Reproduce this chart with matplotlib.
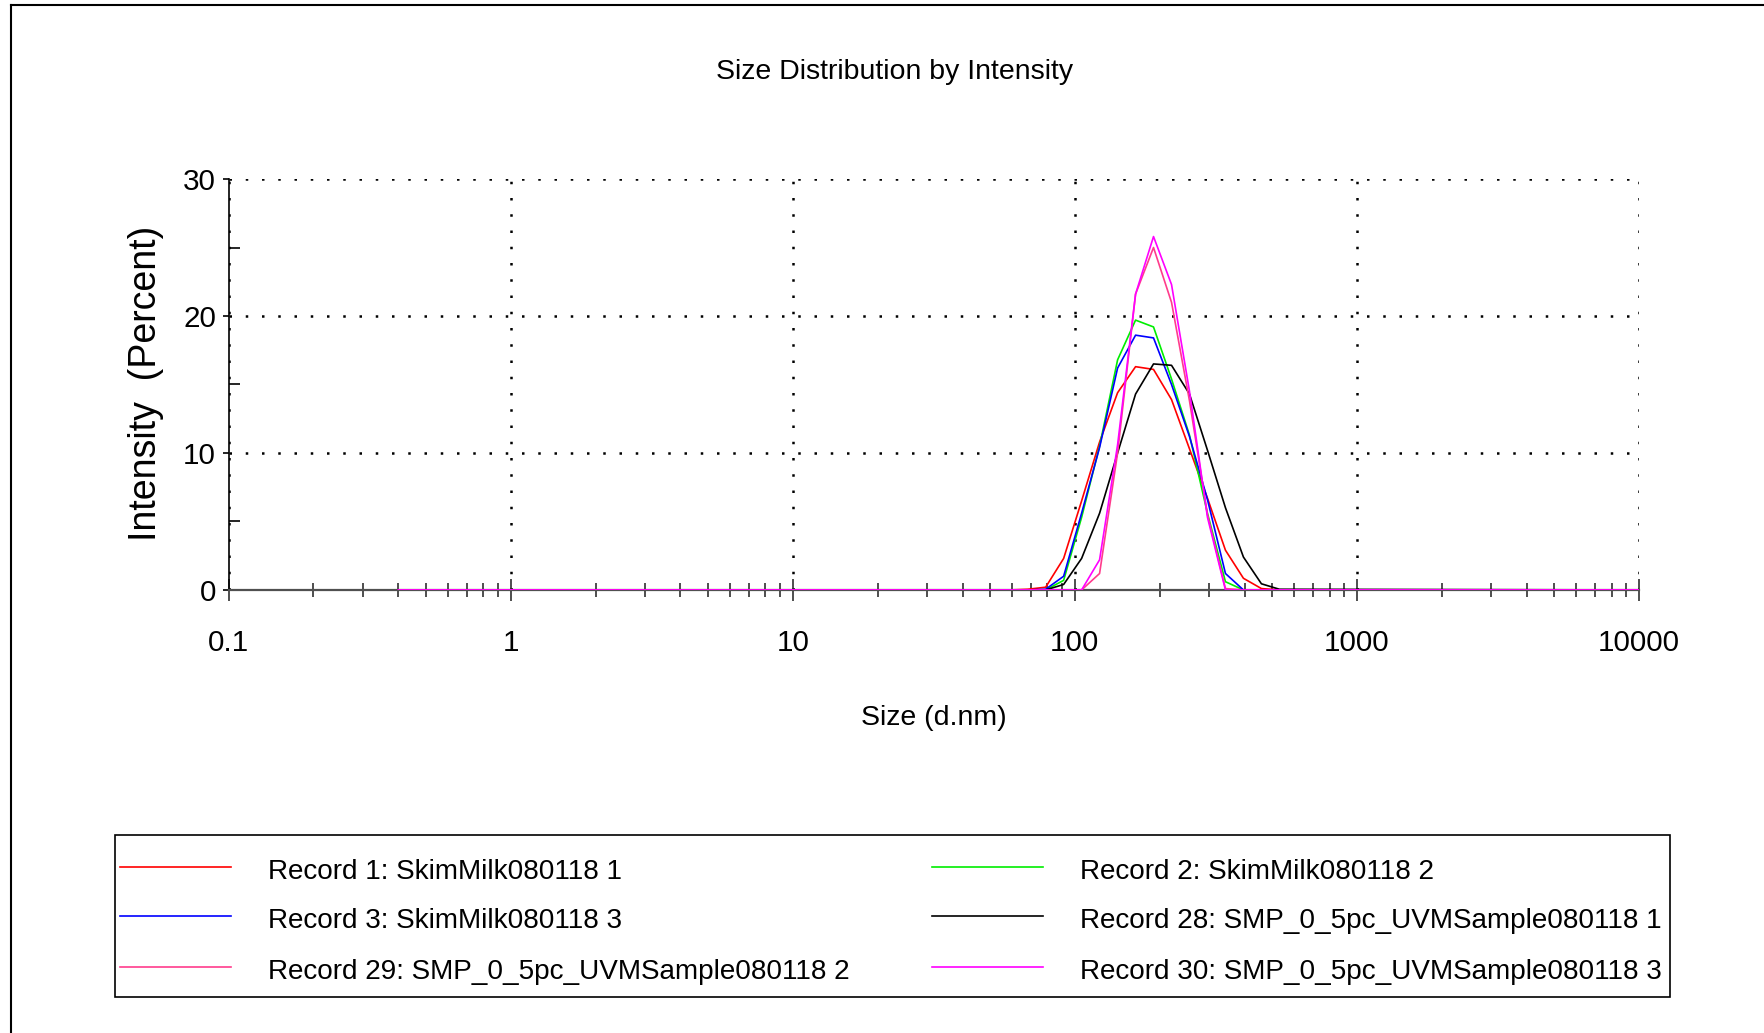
import matplotlib
matplotlib.use("Agg")
import matplotlib.pyplot as plt
import matplotlib.ticker as ticker
from matplotlib import font_manager
from matplotlib.lines import Line2D
from matplotlib.patches import Rectangle

# --- Data (size bins in d.nm, intensity in percent) ---
SIZE_MIN = 0.4
SIZE_MAX = 10000
PEAK_SIZES = [58.77, 68.06, 78.82, 91.28, 105.7, 122.4, 141.8, 164.2,
              190.1, 220.2, 255.0, 295.3, 342.0, 396.1, 458.7, 531.2]

rec1 = [0, 0.05, 0.2, 2.3, 6.5, 10.8, 14.4, 16.3, 16.1, 13.9, 10.3, 6.7, 2.9, 0.85, 0.1, 0]
rec2 = [0, 0, 0, 0.7, 5.3, 10.5, 16.8, 19.7, 19.2, 15.4, 11.3, 5.6, 0.6, 0, 0, 0]
rec3 = [0, 0, 0.05, 1.0, 5.6, 10.4, 16.2, 18.6, 18.4, 15.0, 11.2, 6.6, 1.2, 0, 0, 0]
rec28 = [0, 0, 0, 0.4, 2.3, 5.6, 10.0, 14.3, 16.5, 16.4, 14.3, 10.2, 6.0, 2.4, 0.45, 0.05]
rec29 = [0, 0, 0, 0, 0, 1.2, 10.0, 21.6, 25.0, 21.0, 13.8, 5.5, 0.1, 0, 0, 0]
rec30 = [0, 0, 0, 0, 0, 2.2, 10.6, 21.6, 25.8, 22.3, 14.5, 5.3, 0, 0, 0, 0]

LABELS = ["Record 1: SkimMilk080118 1", "Record 2: SkimMilk080118 2",
          "Record 3: SkimMilk080118 3", "Record 28: SMP_0_5pc_UVMSample080118 1",
          "Record 29: SMP_0_5pc_UVMSample080118 2", "Record 30: SMP_0_5pc_UVMSample080118 3"]
SERIES = [rec1, rec2, rec3, rec28, rec29, rec30]
COLORS = ["#ff0000", "#00ee00", "#0000ff", "#000000", "#ff3c8c", "#ff00ff"]

X_TICKS = [0.1, 1, 10, 100, 1000, 10000]
X_TICK_LABELS = ["0.1", "1", "10", "100", "1000", "10000"]
Y_TICKS = [0, 10, 20, 30]

# narrow font if there is one, otherwise plain Liberation Sans at a smaller size
installed = {f.name for f in font_manager.fontManager.ttflist}
if "Liberation Sans Narrow" in installed:
    NARROW = ["Liberation Sans Narrow", "DejaVu Sans"]
    scale = 1.0
else:
    NARROW = ["Liberation Sans", "DejaVu Sans"]
    scale = 0.82
TICK_FS = 26 * scale
TEXT_FS = 25 * scale
LEGEND_FS = 24.5 * scale

fig = plt.figure(figsize=(17.65, 10.33), dpi=100)
ax = fig.add_axes([0.1295, 0.4289, 0.7991, 0.3978])

for vals, col, lab in zip(SERIES, COLORS, LABELS):
    xs = [SIZE_MIN] + PEAK_SIZES + [SIZE_MAX]
    ys = [0] + vals + [0]
    ax.plot(xs, ys, color=col, lw=1.2, label=lab, zorder=3)

ax.set_xscale("log")
ax.set_xlim(0.1, 10000)
ax.set_ylim(0, 30)
ax.set_xticks(X_TICKS)
ax.set_xticklabels(X_TICK_LABELS)
ax.xaxis.set_minor_locator(ticker.LogLocator(base=10, subs=range(2, 10), numticks=20))
ax.xaxis.set_minor_formatter(ticker.NullFormatter())
ax.set_yticks(Y_TICKS)
ax.yaxis.set_minor_locator(ticker.FixedLocator([5, 15, 25]))

ax.grid(True, which="major", color="black", linestyle=(0, (1, 5.5)), lw=1.8)
for side in ["top", "right"]:
    ax.spines[side].set_visible(False)
ax.spines["left"].set_color("black")
ax.spines["left"].set_linewidth(1.2)
ax.spines["bottom"].set_color("#505050")
ax.spines["bottom"].set_linewidth(1.6)

ax.tick_params(axis="x", which="major", direction="inout", length=16, width=1.2,
               color="#303030", pad=20)
ax.tick_params(axis="x", which="minor", direction="inout", length=10, width=1.2,
               color="#303030")
ax.tick_params(axis="y", which="major", direction="out", length=4, width=1.2, pad=5)
ax.tick_params(axis="y", which="minor", direction="in", length=8, width=1.2)
for lbl in ax.get_xticklabels() + ax.get_yticklabels():
    lbl.set_family(NARROW)
    lbl.set_fontsize(TICK_FS)

fig.text(0.507, 0.930, "Size Distribution by Intensity", family=NARROW, fontsize=TEXT_FS,
         ha="center", va="center")
fig.text(0.529, 0.305, "Size (d.nm)", family=NARROW, fontsize=TEXT_FS,
         ha="center", va="center")
fig.text(0.083, 0.629, "Intensity  (Percent)", family=["Liberation Sans", "DejaVu Sans"],
         fontsize=27, rotation=90, ha="center", va="center")

# outer frame lines
fig.add_artist(Line2D([0.0065, 1.0], [0.995, 0.995], color="black", lw=1.5))
fig.add_artist(Line2D([0.0065, 0.0065], [0.0, 0.995], color="black", lw=1.5))

# legend box, drawn by hand to match the two-column layout
fig.add_artist(Rectangle((0.0652, 0.0349), 0.881, 0.1568, fill=False, ec="black", lw=1.2))
order = [0, 2, 4, 1, 3, 5]
col_x = [0.068, 0.528]
row_y = [0.1555, 0.1081, 0.0587]
for k, idx in enumerate(order):
    c, r = divmod(k, 3)
    x0 = col_x[c]
    fig.add_artist(Line2D([x0, x0 + 0.063], [row_y[r] + 0.005, row_y[r] + 0.005],
                          color=COLORS[idx], lw=1.2))
    fig.text(x0 + 0.084, row_y[r], LABELS[idx], family=NARROW, fontsize=LEGEND_FS,
             ha="left", va="center")

fig.savefig("out.png", dpi=100)
